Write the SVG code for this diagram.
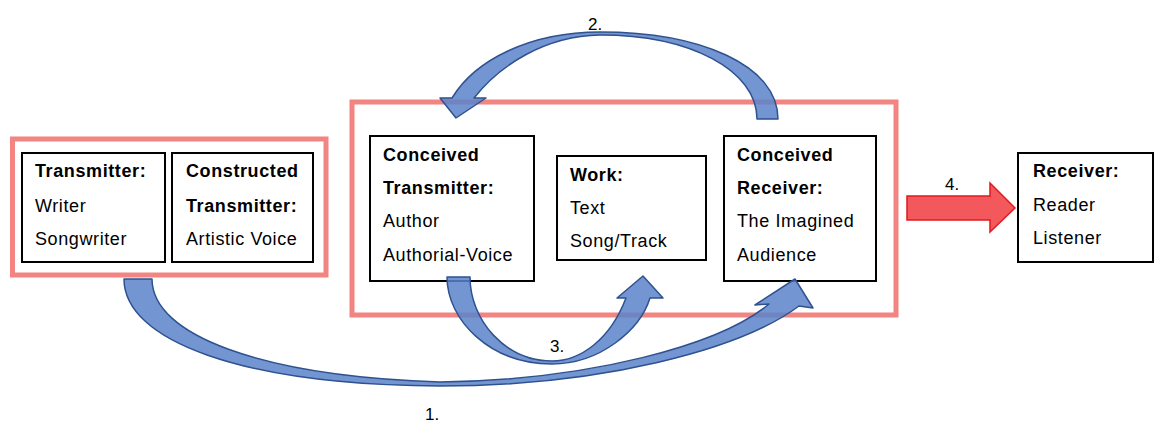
<svg xmlns="http://www.w3.org/2000/svg" width="1158" height="423" viewBox="0 0 1158 423">
<style>
  .frame{fill:none;stroke:#F28482;stroke-width:5}
  .box{fill:#fff;stroke:#000;stroke-width:2}
  text{font-family:"Liberation Sans",Arial,sans-serif;font-size:18px;fill:#000;letter-spacing:0.6px}
  .b{font-weight:bold}
  .num{font-size:17px;letter-spacing:0}
  .curve{fill:#5B84CB;fill-opacity:0.85;stroke:#2F528F;stroke-width:1.5;stroke-linejoin:round}
  .red{fill:#F3585C;stroke:#E01A1F;stroke-width:1.5;stroke-linejoin:miter}
</style>
<rect width="1158" height="423" fill="#fff"/>

<g id="frames">
  <rect id="frame-left" class="frame" x="12.5" y="139" width="313.5" height="136"/>
  <rect id="frame-main" class="frame" x="352" y="102" width="544" height="213"/>
</g>

<g id="node-transmitter">
  <rect class="box" x="22" y="153" width="143" height="109"/>
  <text class="b" x="35" y="177">Transmitter:</text>
  <text x="35" y="212">Writer</text>
  <text x="35" y="245">Songwriter</text>
</g>

<g id="node-constructed">
  <rect class="box" x="172" y="153" width="141" height="109"/>
  <text class="b" x="186" y="177">Constructed</text>
  <text class="b" x="186" y="212">Transmitter:</text>
  <text x="186" y="245">Artistic Voice</text>
</g>

<g id="node-conceived-transmitter">
  <rect class="box" x="370" y="136" width="164" height="145"/>
  <text class="b" x="383" y="161">Conceived</text>
  <text class="b" x="383" y="194">Transmitter:</text>
  <text x="383" y="227">Author</text>
  <text x="383" y="261">Authorial-Voice</text>
</g>

<g id="node-work">
  <rect class="box" x="557" y="156" width="149" height="104"/>
  <text class="b" x="570" y="181">Work:</text>
  <text x="570" y="214">Text</text>
  <text x="570" y="247">Song/Track</text>
</g>

<g id="node-conceived-receiver">
  <rect class="box" x="724" y="136" width="152" height="145"/>
  <text class="b" x="737" y="161">Conceived</text>
  <text class="b" x="737" y="194">Receiver:</text>
  <text x="737" y="227">The Imagined</text>
  <text x="737" y="261">Audience</text>
</g>

<g id="node-receiver">
  <rect class="box" x="1018" y="153" width="135" height="109"/>
  <text class="b" x="1033" y="177">Receiver:</text>
  <text x="1033" y="211">Reader</text>
  <text x="1033" y="244">Listener</text>
</g>

<g id="connectors">
  <path id="arrow-1" class="curve" d="M124,279 C124,340 240,385 440,386 C600,386 740,350 799,306 L813,308 L795,279 L755,305 L769,304 C720,345 590,380 440,382 C260,376 152,335 152,279 Z"/>
  <path id="arrow-2" class="curve" d="M778,119 C778,65 700,32 600,32 C530,32 475,60 452,98 L440,98 L456,118 L486,98 L474,98 C500,65 545,36 600,35 C690,35 757,70 757,119 Z"/>
  <path id="arrow-3" class="curve" d="M447,277 C447,320 490,364 552,364 C600,364 640,330 650,298 L663,298 L643,276 L617,298 L626,298 C610,340 580,361 552,361 C505,361 470,320 470,277 Z"/>
  <path id="arrow-4" class="red" d="M907,196 L990,196 L990,183 L1015,208 L990,232 L990,220 L907,220 Z"/>
  <text class="num" x="425" y="420">1.</text>
  <text class="num" x="588" y="30">2.</text>
  <text class="num" x="550" y="352">3.</text>
  <text class="num" x="945" y="190">4.</text>
</g>
</svg>
